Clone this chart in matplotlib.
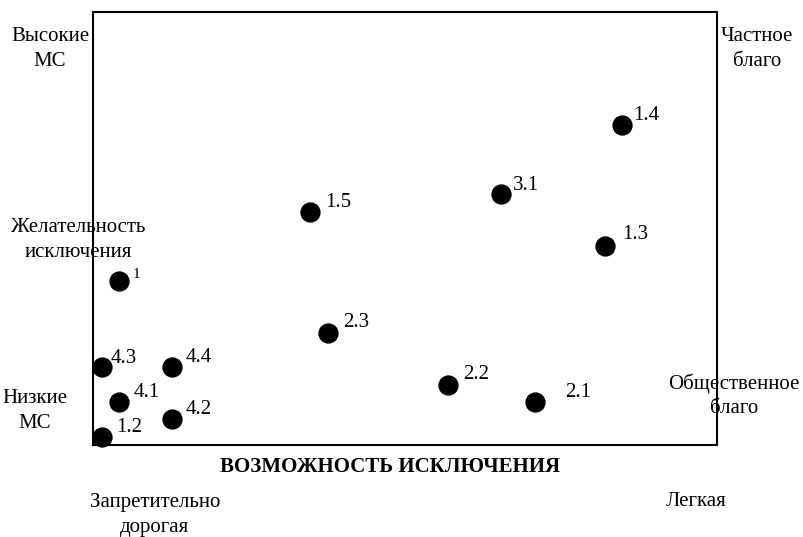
import matplotlib.pyplot as plt

plt.rcParams['font.family'] = ['Liberation Serif', 'DejaVu Serif']

# точки: метка, возможность исключения (x), желательность исключения (y)
labels = ["1", "1.2", "1.3", "1.4", "1.5", "2.1", "2.2", "2.3", "3.1", "4.1", "4.2", "4.3", "4.4"]
x_vals = [0.42, 0.14, 8.21, 8.48, 3.48, 7.08, 5.69, 3.77, 6.54, 0.42, 1.27, 0.14, 1.27]
y_vals = [3.79, 0.18, 4.60, 7.39, 5.38, 0.99, 1.39, 2.59, 5.80, 0.99, 0.60, 1.80, 1.80]

# сдвиг подписей (в пикселях)
offsets = {"1": (13, 6), "1.2": (14, 10), "1.3": (17, 11), "1.4": (11, 10), "1.5": (15, 10),
           "2.1": (30, 10), "2.2": (15, 10), "2.3": (15, 10), "3.1": (12, 8),
           "4.1": (14, 10), "4.2": (13, 10), "4.3": (9, 9), "4.4": (13, 10)}

fig = plt.figure(figsize=(8.04, 5.37), dpi=100)
ax = fig.add_axes([93/804, 1-445/537, 624/804, 433/537])
ax.set_xlim(0, 10)
ax.set_ylim(0, 10)
ax.set_xticks([])
ax.set_yticks([])
for s in ax.spines.values():
    s.set_linewidth(1.5)

ax.scatter(x_vals, y_vals, s=185, color="black", clip_on=False, zorder=3)
for lab, x, y in zip(labels, x_vals, y_vals):
    dx, dy = offsets[lab]
    ax.annotate(lab, (x, y), xytext=(dx*0.72, dy*0.72), textcoords="offset points",
                ha="left", va="center", fontsize=11 if lab == "1" else 15)

def ftext(px, py, s, **kw):
    fig.text(px/804, 1-py/537, s, ha="center", va="center", fontsize=15,
             linespacing=1.37, **kw)

ftext(50, 49, "Высокие\nМС")
ftext(757, 49, "Частное\nблаго")
ftext(78, 240, "Желательность\nисключения")
ftext(35, 411, "Низкие\nМС")
ftext(734, 396, "Общественное\nблаго")
ftext(390, 467, "ВОЗМОЖНОСТЬ ИСКЛЮЧЕНИЯ", fontweight="bold")
ftext(155, 515, "Запретительно\nдорогая")
ftext(696, 501, "Легкая")

fig.savefig("out.png", dpi=100)
